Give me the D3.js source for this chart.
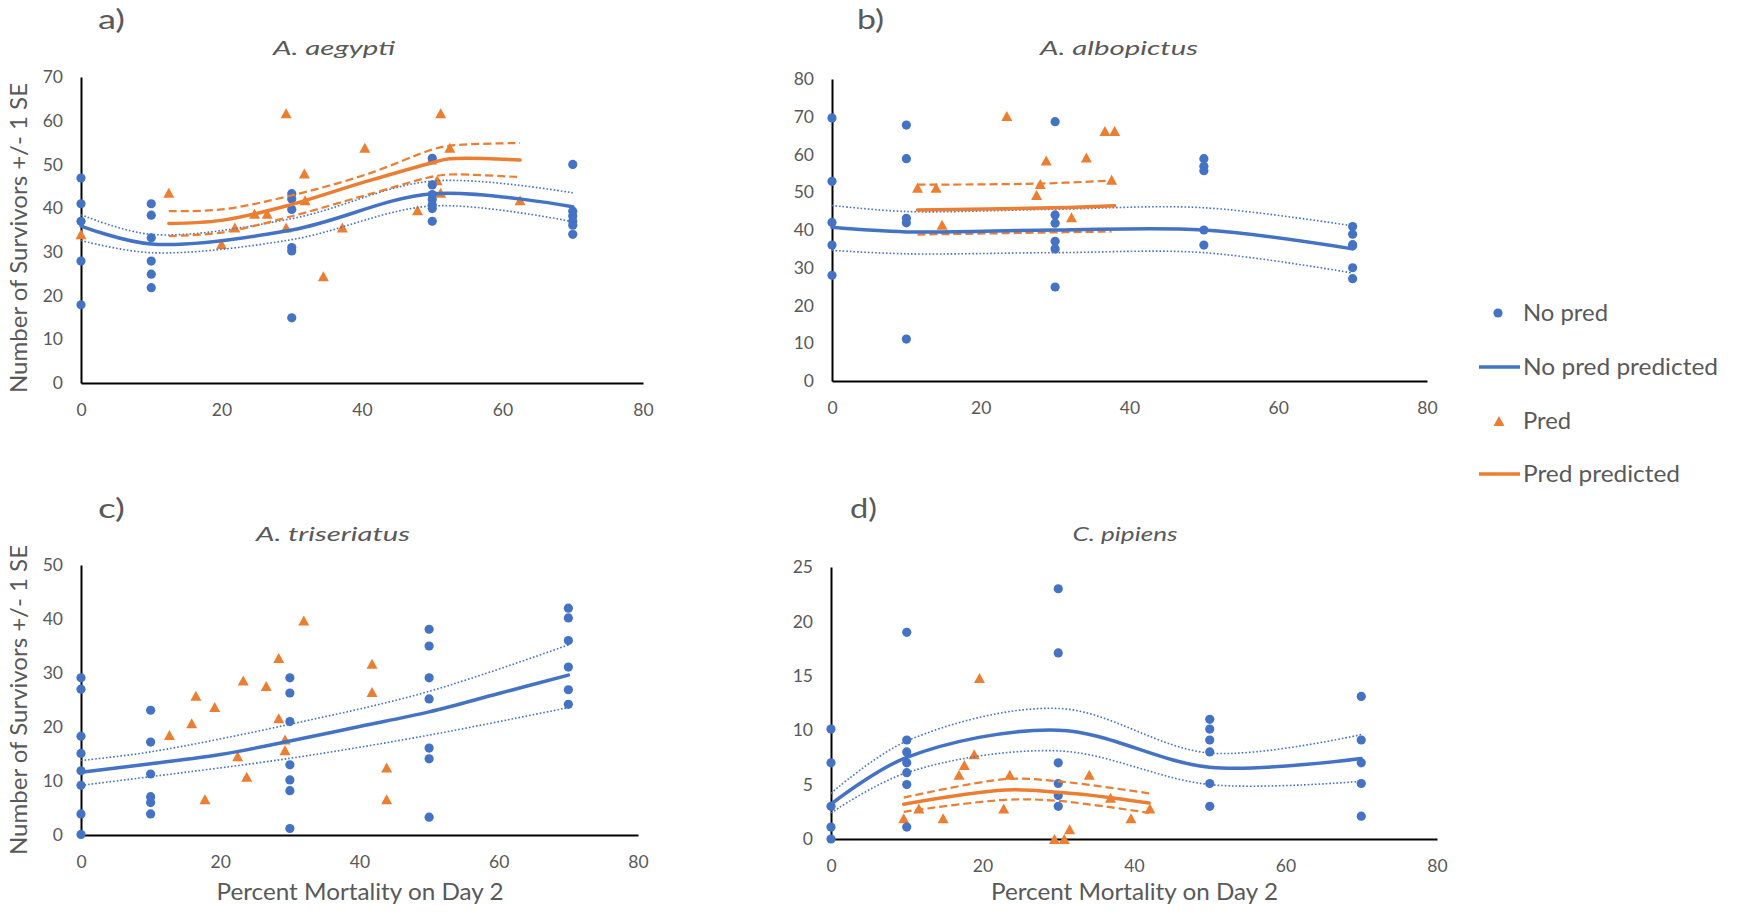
<!DOCTYPE html>
<html><head><meta charset="utf-8">
<script src="https://cdn.jsdelivr.net/npm/d3@7"></script>
<style>
body{margin:0;background:#fff}
svg{display:block}
text{font-family:Lato,"Noto Sans",sans-serif;fill:#595959}
</style>
</head><body>
<svg id="chart" width="1739" height="914"></svg>
<script>
// ---------------- DATA ----------------
const panelLetters = ["a)", "b)", "c)", "d)"];
const speciesNames = ["A. aegypti", "A. albopictus", "A. triseriatus", "C. pipiens"];
const xTicks = [0, 20, 40, 60, 80];
const yTicksA = [0, 10, 20, 30, 40, 50, 60, 70];
const yTicksB = [0, 10, 20, 30, 40, 50, 60, 70, 80];
const yTicksC = [0, 10, 20, 30, 40, 50];
const yTicksD = [0, 5, 10, 15, 20, 25];
const xAxisTitle = "Percent Mortality on Day 2";
const yAxisTitle = "Number of Survivors +/- 1 SE";
const legendLabels = ["No pred", "No pred predicted", "Pred", "Pred predicted"];

// a) A. aegypti
const aNoPred = [[0,46.9],[0,41],[0,37],[0,27.9],[0,17.9],
  [10,41],[10,38.4],[10,33.2],[10,27.9],[10,24.9],[10,21.8],
  [30,43.3],[30,42.1],[30,39.7],[30,31],[30,30.2],[30,14.9],
  [50,51.4],[50,45.3],[50,43.1],[50,42],[50,40.8],[50,39.9],[50,37],
  [70,50],[70,39.3],[70,38.2],[70,37],[70,36.1],[70,34]];
const aPred = [[0,34],[12.5,43.5],[20,31.8],[21.9,35.6],[24.7,38.7],[26.5,38.7],[29.2,61.7],[29.2,35.6],
  [31.8,47.9],[31.9,41.8],[34.5,24.4],[37.2,35.6],[40.4,53.8],[47.9,39.5],[49.9,51.1],[50.7,46.4],
  [51.2,61.7],[51.2,43.5],[52.5,53.8],[62.5,41.8]];
const aNoPredFit = [[0,35.9],[10,31.8],[30,35],[50,43.3],[70,40.3]];
const aNoPredUpper = [[0,38.5],[10,34],[30,37.6],[50,46.2],[70,43.5]];
const aNoPredLower = [[0,32.6],[10,29.8],[30,32.8],[50,40.5],[70,36.9]];
const aPredFit = [[12.5,36.5],[20,37.2],[29.2,40.5],[40.4,46],[50,50.4],[52.5,51.3],[62.5,51]];
const aPredUpper = [[12.5,39.3],[20,39.7],[29.2,42.6],[40.4,47.6],[50,53.4],[52.5,54.3],[62.5,54.9]];
const aPredLower = [[12.5,33.6],[20,34.4],[29.2,37.8],[40.4,42.9],[50,47.2],[52.5,47.7],[62.5,47.1]];

// b) A. albopictus
const bNoPred = [[0,69.7],[0,52.9],[0,42],[0,36],[0,28],
  [10,67.8],[10,58.9],[10,43.1],[10,41.9],[10,11.1],
  [30,68.7],[30,44],[30,41.8],[30,37],[30,35],[30,24.9],
  [50,58.9],[50,56.9],[50,55.7],[50,40],[50,36],
  [70,40.9],[70,38.9],[70,36.1],[70,35.8],[70,30],[70,27.1]];
const bPred = [[11.5,51.2],[14,51.2],[14.8,41.4],[23.5,70.2],[27.5,49.3],[28,52.2],[28.8,58.4],
  [32.2,43.4],[34.2,59.2],[36.7,66.2],[38,66.2],[37.6,53.3]];
const bNoPredFit = [[0,40.7],[10,39.5],[30,40],[50,40],[70,35]];
const bNoPredUpper = [[0,46.5],[10,44.9],[30,45.5],[50,45.9],[70,41.1]];
const bNoPredLower = [[0,34.6],[10,33.7],[30,34],[50,34],[70,28.6]];
const bPredFit = [[11.5,45.3],[28,45.8],[38,46.4]];
const bPredUpper = [[11.5,52],[28,52.3],[37.6,53.1]];
const bPredLower = [[11.5,38.8],[28,39.3],[37.6,39.6]];

// c) A. triseriatus
const cNoPred = [[0,29.1],[0,27],[0,18.3],[0,15.1],[0,11.9],[0,9.2],[0,3.9],[0,0.1],
  [10,23.1],[10,17.2],[10,11.3],[10,7.1],[10,6],[10,3.9],
  [30,29.1],[30,26.3],[30,21],[30,13],[30,10.2],[30,8.2],[30,1.2],
  [50,38.1],[50,35],[50,29.1],[50,25.2],[50,16.1],[50,14.1],[50,3.3],
  [70,42],[70,40.2],[70,36],[70,31.1],[70,26.9],[70,24.2]];
const cPred = [[12.7,18.5],[15.9,20.7],[16.5,25.8],[17.8,6.6],[19.2,23.7],[22.5,14.6],[23.3,28.6],
  [23.8,10.8],[26.6,27.6],[28.4,32.8],[28.4,21.6],[29.3,17.7],[29.3,15.7],[32,39.7],
  [41.8,31.7],[41.8,26.5],[43.9,12.5],[43.9,6.6]];
const cNoPredFit = [[0,11.6],[10,13.2],[20,14.9],[30,17.4],[40,20.1],[50,22.8],[60,26.2],[70,29.6]];
const cNoPredUpper = [[0,13.8],[10,15.4],[30,20.5],[50,26.6],[70,35.2]];
const cNoPredLower = [[0,9.2],[10,10.8],[30,14.2],[50,18.5],[70,23.6]];

// d) C. pipiens
const dNoPred = [[0,10.1],[0,7],[0,3],[0,1.1],[0,0],
  [10,19],[10,9.1],[10,8],[10,7],[10,6.1],[10,5],[10,1.1],
  [30,23],[30,17.1],[30,7],[30,5.1],[30,4],[30,3],
  [50,11],[50,10.1],[50,9.1],[50,8],[50,5.1],[50,3],
  [70,13.1],[70,9.1],[70,7],[70,5.1],[70,2.1]];
const dPred = [[9.6,1.9],[11.6,2.8],[14.8,1.9],[16.9,5.9],[17.6,6.8],[18.9,7.8],[19.6,14.8],[22.8,2.8],
  [23.6,5.9],[29.5,0],[30.8,0],[31.5,0.9],[34.1,5.9],[36.9,3.8],[39.6,1.9],[42.1,2.8]];
const dNoPredFit = [[0,3.2],[10,7.5],[30,10],[50,6.6],[70,7.4]];
const dNoPredUpper = [[0,4.2],[10,9],[30,12],[50,7.9],[70,9.6]];
const dNoPredLower = [[0,2.4],[10,6.1],[30,8.1],[50,5],[70,5.3]];
const dPredFit = [[9.6,3.2],[23,4.5],[30,4.3],[37,3.8],[42,3.3]];
const dPredUpper = [[9.6,3.8],[23,5.5],[30,5.3],[42,4.2]];
const dPredLower = [[9.6,2.5],[23,3.6],[30,3.5],[42,2.4]];

// ---------------- STYLE / LAYOUT ----------------
const BLUE = "#4472C4", ORANGE = "#ED7D31";
const panels = [
  {letter: panelLetters[0], title: speciesNames[0], yTicks: yTicksA, yMax: 70,
   box: {l: 81, r: 643, t: 77, b: 383}, lx: 98, ly: 29, tx: 334, ty: 55, tw: 122, xTitle: false,
   noPred: aNoPred, pred: aPred, npFit: aNoPredFit, npUp: aNoPredUpper, npLo: aNoPredLower,
   pFit: aPredFit, pUp: aPredUpper, pLo: aPredLower},
  {letter: panelLetters[1], title: speciesNames[1], yTicks: yTicksB, yMax: 80,
   box: {l: 832, r: 1427, t: 79, b: 381}, lx: 857, ly: 29, tx: 1119, ty: 55, tw: 158, xTitle: false,
   noPred: bNoPred, pred: bPred, npFit: bNoPredFit, npUp: bNoPredUpper, npLo: bNoPredLower,
   pFit: bPredFit, pUp: bPredUpper, pLo: bPredLower},
  {letter: panelLetters[2], title: speciesNames[2], yTicks: yTicksC, yMax: 50,
   box: {l: 81, r: 638, t: 565, b: 835}, lx: 98, ly: 518, tx: 333, ty: 541, tw: 154, xTitle: true,
   noPred: cNoPred, pred: cPred, npFit: cNoPredFit, npUp: cNoPredUpper, npLo: cNoPredLower,
   pFit: null, pUp: null, pLo: null},
  {letter: panelLetters[3], title: speciesNames[3], yTicks: yTicksD, yMax: 25,
   box: {l: 831, r: 1437, t: 567, b: 839}, lx: 850, ly: 518, tx: 1125, ty: 541, tw: 105, xTitle: true,
   noPred: dNoPred, pred: dPred, npFit: dNoPredFit, npUp: dNoPredUpper, npLo: dNoPredLower,
   pFit: dPredFit, pUp: dPredUpper, pLo: dPredLower}
];

const svg = d3.select("#chart");
const tri = (w, h) => `M0,${-h/2}L${w/2},${h/2}L${-w/2},${h/2}Z`;

panels.forEach(p => {
  const x = d3.scaleLinear().domain([0, 80]).range([p.box.l, p.box.r]);
  const y = d3.scaleLinear().domain([0, p.yMax]).range([p.box.b, p.box.t]);
  const g = svg.append("g");

  const xa = g.append("g").attr("transform", `translate(0,${p.box.b})`)
    .call(d3.axisBottom(x).tickValues(xTicks).tickSize(0).tickPadding(21));
  const ya = g.append("g").attr("transform", `translate(${p.box.l},0)`)
    .call(d3.axisLeft(y).tickValues(p.yTicks).tickSize(0).tickPadding(18));
  [xa, ya].forEach(a => {
    a.select(".domain").attr("stroke", "#000").attr("stroke-width", 2);
    a.selectAll("text").style("font-size", "17.5px").attr("fill", "#595959");
  });

  const line = d3.line().x(d => x(d[0])).y(d => y(d[1])).curve(d3.curveCatmullRom.alpha(0.5));
  const addLine = (data, color, width, dash) => {
    if (!data) return;
    g.append("path").datum(data).attr("d", line).attr("fill", "none")
      .attr("stroke", color).attr("stroke-width", width)
      .attr("stroke-dasharray", dash || null).attr("stroke-linecap", dash ? "butt" : "round");
  };

  g.append("g").selectAll("path").data(p.pred).join("path")
    .attr("d", tri(11, 10)).attr("fill", ORANGE)
    .attr("transform", d => `translate(${x(d[0])},${y(d[1])})`);
  g.append("g").selectAll("circle").data(p.noPred).join("circle")
    .attr("cx", d => x(d[0])).attr("cy", d => y(d[1])).attr("r", 4.6).attr("fill", BLUE);

  addLine(p.npUp, BLUE, 1.6, "1.6,2");
  addLine(p.npLo, BLUE, 1.6, "1.6,2");
  addLine(p.pUp, ORANGE, 2.2, "8,4");
  addLine(p.pLo, ORANGE, 2.2, "8,4");
  addLine(p.npFit, BLUE, 3.5);
  addLine(p.pFit, ORANGE, 3.5);

  g.append("text").attr("x", p.lx).attr("y", p.ly).text(p.letter)
    .style("font-size", "26px").attr("textLength", 27).attr("lengthAdjust", "spacingAndGlyphs");
  g.append("text").attr("x", p.tx - p.tw / 2).attr("y", p.ty)
    .style("font-size", "20px").style("font-style", "italic")
    .attr("textLength", p.tw).attr("lengthAdjust", "spacingAndGlyphs").text(p.title);
  if (p.xTitle) {
    g.append("text").attr("x", (p.box.l + p.box.r) / 2 - 143).attr("y", 900)
      .style("font-size", "24px").attr("textLength", 287).attr("lengthAdjust", "spacingAndGlyphs")
      .text(xAxisTitle);
  }
});

[238, 700].forEach(cy => {
  svg.append("text").attr("transform", `translate(27,${cy + 155}) rotate(-90)`)
    .style("font-size", "24px").attr("textLength", 310).attr("lengthAdjust", "spacingAndGlyphs")
    .text(yAxisTitle);
});

// legend
const lg = svg.append("g");
const legY = [313, 367, 421, 474];
const legW = [85, 195, 48, 157];
lg.append("circle").attr("cx", 1498).attr("cy", legY[0]).attr("r", 4.6).attr("fill", BLUE);
lg.append("line").attr("x1", 1479).attr("x2", 1520).attr("y1", legY[1]).attr("y2", legY[1])
  .attr("stroke", BLUE).attr("stroke-width", 3.5);
lg.append("path").attr("d", tri(11, 10)).attr("fill", ORANGE).attr("transform", `translate(1499,${legY[2]})`);
lg.append("line").attr("x1", 1479).attr("x2", 1520).attr("y1", legY[3]).attr("y2", legY[3])
  .attr("stroke", ORANGE).attr("stroke-width", 3.5);
legendLabels.forEach((t, i) => {
  lg.append("text").attr("x", 1523).attr("y", legY[i]).attr("dy", "0.36em")
    .style("font-size", "22.5px").attr("textLength", legW[i]).attr("lengthAdjust", "spacingAndGlyphs").text(t);
});
</script>
</body></html>
